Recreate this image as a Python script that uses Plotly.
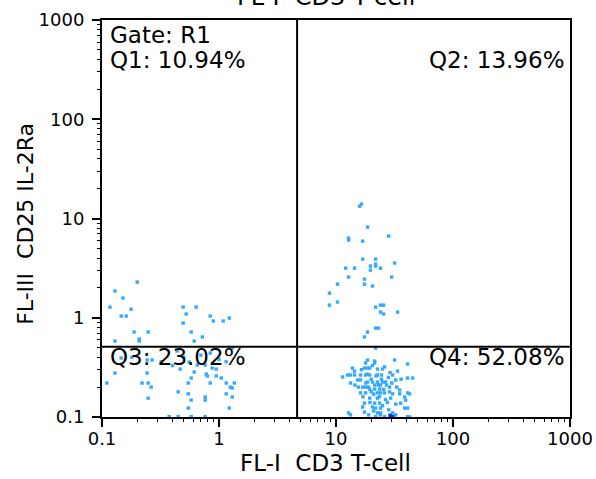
import plotly.graph_objects as go

# ---- data ----
q1_x = [0.117, 0.129, 0.151, 0.200, 0.146, 0.161, 0.177, 0.188, 0.248, 0.129, 0.208, 0.208,
        0.494, 0.638, 0.524, 0.494, 0.578, 0.614, 0.720, 0.841, 0.893, 1.087, 1.224]
q1_y = [1.28, 1.86, 1.58, 2.29, 1.04, 1.04, 1.22, 0.718, 0.718, 0.582, 0.61, 0.582,
        1.28, 1.28, 1.09, 0.885, 0.718, 0.582, 0.64, 1.04, 0.927, 0.927, 0.993]

q2_x = [16.5, 15.9, 18.6, 28.2, 12.8, 12.8, 16.9, 16.9, 21.8, 12.1, 14.4, 19.7, 21.8, 21.8,
        24.0, 31.7, 19.7, 12.8, 29.9, 17.5, 17.5, 10.3, 20.5, 8.79, 8.79, 10.3, 21.8, 24.0,
        25.5, 24.0, 25.5, 33.6, 21.8, 23.1, 18.6, 17.5]
q2_y = [13.96, 13.3, 8.19, 6.65, 6.35, 6.06, 5.92, 3.90, 3.90, 3.16, 3.16, 3.32, 3.47, 3.32,
        3.16, 3.56, 3.02, 2.57, 2.57, 2.45, 2.18, 2.18, 2.09, 1.77, 1.34, 1.44, 1.28, 1.34,
        1.34, 1.14, 1.09, 1.14, 0.787, 0.787, 0.718, 0.64]

q3_x = [0.146, 0.243, 0.268, 0.438, 0.556, 0.466, 0.652, 0.762, 0.841, 1.298, 0.947, 0.875,
        0.614, 0.778, 0.794, 0.129, 0.243, 0.578, 0.947, 1.045, 0.110, 0.220, 0.248, 0.263,
        0.546, 0.841, 1.153, 1.351, 1.248, 1.298, 0.448, 0.546, 1.153, 1.298, 0.248, 0.578,
        0.762, 0.762, 0.546, 1.224, 0.375, 0.448, 0.578, 0.762,
        0.18, 0.32, 0.70, 1.0, 0.50, 0.40, 1.15]
q3_y = [0.393, 0.375, 0.375, 0.462, 0.358, 0.304, 0.334, 0.334, 0.441, 0.495, 0.304, 0.311,
        0.284, 0.271, 0.259, 0.277, 0.277, 0.247, 0.259, 0.247, 0.220, 0.220, 0.220, 0.200,
        0.220, 0.220, 0.220, 0.220, 0.200, 0.196, 0.179, 0.171, 0.171, 0.159, 0.155, 0.148,
        0.159, 0.148, 0.123, 0.123, 0.101, 0.101, 0.101, 0.101,
        0.40, 0.36, 0.42, 0.38, 0.40, 0.33, 0.36]

q4_x = [21.8, 18.6, 31.7, 21.4, 17.9, 21.4, 40.9, 17.5, 18.6, 19.4, 13.8, 22.6, 25.0, 33.6,
        14.4, 12.55, 13.3, 14.4, 16.2, 17.9, 19.4, 22.6, 24.5, 30.5, 11.37, 15.3, 16.2, 18.6,
        20.5, 22.6, 25.0, 26.5, 32.4, 40.9, 45.2, 13.3, 21.4, 24.0, 16.9, 17.9, 28.7, 19.4,
        21.4, 23.6, 28.7, 35.0, 40.9, 16.2, 17.9, 22.6, 24.0, 26.0, 30.5, 35.0, 38.6, 19.4,
        22.6, 29.3, 39.4, 17.5, 21.4, 23.6, 32.4, 35.7, 20.5, 21.8, 24.0, 28.2, 38.6, 40.9,
        17.5, 12.8, 13.3, 22.6, 24.0, 30.5, 32.4, 40.9, 42.6, 21.8, 26.0, 16.9, 42.6,
        20.0, 23.0, 19.0, 25.5, 21.0, 18.0, 24.5, 27.0, 20.0, 22.0, 26.5, 19.5, 23.5, 17.0,
        28.0, 15.5, 30.0, 21.0, 25.0, 18.5, 27.5, 33.0, 14.5, 36.0, 16.5, 29.0, 20.5, 26.0,
        24.0, 19.0]
q4_y = [0.495, 0.375, 0.375, 0.366, 0.350, 0.350, 0.342, 0.311, 0.311, 0.311, 0.311, 0.304,
        0.304, 0.290, 0.290, 0.265, 0.265, 0.265, 0.265, 0.265, 0.265, 0.265, 0.265, 0.265,
        0.253, 0.236, 0.236, 0.225, 0.225, 0.225, 0.225, 0.225, 0.236, 0.247, 0.247, 0.220,
        0.210, 0.210, 0.200, 0.200, 0.200, 0.191, 0.191, 0.191, 0.179, 0.187, 0.175, 0.175,
        0.175, 0.175, 0.175, 0.175, 0.171, 0.171, 0.159, 0.155, 0.155, 0.155, 0.148, 0.138,
        0.138, 0.138, 0.135, 0.138, 0.126, 0.123, 0.123, 0.118, 0.123, 0.123, 0.112, 0.110,
        0.105, 0.110, 0.110, 0.110, 0.105, 0.101, 0.100, 0.101, 0.101, 0.126, 0.171,
        0.24, 0.21, 0.20, 0.19, 0.17, 0.22, 0.24, 0.21, 0.18, 0.26, 0.15, 0.14, 0.16, 0.16,
        0.25, 0.20, 0.22, 0.115, 0.13, 0.27, 0.14, 0.20, 0.21, 0.24, 0.30, 0.28, 0.33, 0.32,
        0.105, 0.105]

dense_x = [30.5, 29.0]
dense_y = [0.101, 0.104]

gate_x = 4.65   # vertical quadrant threshold (FL-I)
gate_y = 0.51   # horizontal quadrant threshold (FL-III)

tick_vals = [0.1, 1, 10, 100, 1000]
tick_text = ["0.1", "1", "10", "100", "1000"]

quad_labels = ["Q1: 10.94%", "Q2: 13.96%", "Q3: 23.02%", "Q4: 52.08%"]
gate_label = "Gate: R1"
x_title = "FL-I  CD3 T-cell"
y_title = "FL-III  CD25 IL-2Ra"

FONT = "DejaVu Sans"
DOT = "#33aaff"

fig = go.Figure()
all_x = q1_x + q2_x + q3_x + q4_x
all_y = q1_y + q2_y + q3_y + q4_y
fig.add_trace(go.Scatter(x=all_x, y=all_y, mode="markers",
                         marker=dict(symbol="square", size=3.4, color=DOT, line=dict(width=0)),
                         hoverinfo="skip", showlegend=False, cliponaxis=True))
fig.add_trace(go.Scatter(x=dense_x, y=dense_y, mode="markers",
                         marker=dict(symbol="square", size=3.5, color="#0033ee", line=dict(width=0)),
                         hoverinfo="skip", showlegend=False))
# quadrant lines
fig.add_trace(go.Scatter(x=[gate_x, gate_x], y=[0.1, 1000], mode="lines",
                         line=dict(color="black", width=2), hoverinfo="skip", showlegend=False))
fig.add_trace(go.Scatter(x=[0.1, 1000], y=[gate_y, gate_y], mode="lines",
                         line=dict(color="black", width=2), hoverinfo="skip", showlegend=False))

axis_common = dict(
    type="log", range=[-1, 3], tickmode="array", tickvals=tick_vals, ticktext=tick_text,
    ticks="outside", ticklen=8, tickwidth=1.5, tickcolor="black",
    minor=dict(ticks="outside", ticklen=3, tickwidth=1, tickcolor="black", dtick="D1", showgrid=False),
    showline=True, linewidth=2, linecolor="black", mirror=True,
    showgrid=False, zeroline=False, automargin=False,
    tickfont=dict(family=FONT, size=18, color="black"),
)
fig.update_xaxes(**axis_common, ticklabelstandoff=-4)
fig.update_yaxes(**axis_common, ticklabelstandoff=4)

ann_font = dict(family=FONT, size=23, color="black")
annotations = [
    dict(text=gate_label, x=0.013, y=0.962, xanchor="left", yanchor="middle"),
    dict(text=quad_labels[0], x=0.013, y=0.899, xanchor="left", yanchor="middle"),
    dict(text=quad_labels[1], x=0.994, y=0.899, xanchor="right", yanchor="middle"),
    dict(text=quad_labels[2], x=0.013, y=0.150, xanchor="left", yanchor="middle"),
    dict(text=quad_labels[3], x=0.994, y=0.150, xanchor="right", yanchor="middle"),
]
for a in annotations:
    fig.add_annotation(xref="paper", yref="paper", showarrow=False, font=ann_font, **a)

title_font = dict(family=FONT, size=23, color="black")
fig.add_annotation(text=x_title, xref="paper", yref="paper", x=0.478, y=-0.153,
                   xanchor="center", yanchor="bottom", showarrow=False, font=title_font)
fig.add_annotation(text=x_title, xref="paper", yref="paper", x=0.478, y=1.017,
                   xanchor="center", yanchor="bottom", showarrow=False,
                   font=dict(family=FONT, size=24, color="black"))
fig.add_annotation(text=y_title, xref="paper", yref="paper", x=-0.165, y=0.486,
                   xanchor="center", yanchor="middle", textangle=-90, showarrow=False,
                   font=dict(family=FONT, size=22, color="black"))

fig.update_layout(
    width=596, height=479,
    margin=dict(l=102, r=26, t=20, b=62),
    paper_bgcolor="white", plot_bgcolor="white",
    showlegend=False,
)
fig.write_html("out.html")
